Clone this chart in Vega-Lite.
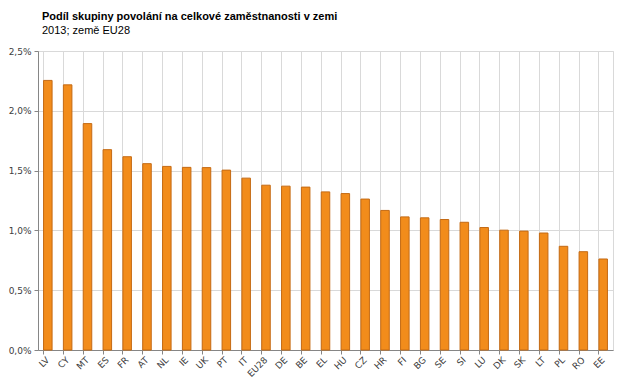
{
  "$schema": "https://vega.github.io/schema/vega-lite/v6.json",
  "width": 575,
  "height": 299,
  "autosize": {"type": "none"},
  "padding": {"left": 38, "top": 51, "right": 14, "bottom": 39},
  "background": "white",
  "title": {
    "text": "Podíl skupiny povolání na celkové zaměstnanosti v zemi",
    "subtitle": "2013; země EU28",
    "anchor": "start",
    "frame": "group",
    "dx": 4,
    "offset": 11,
    "font": "Liberation Sans",
    "fontSize": 11,
    "fontWeight": "bold",
    "color": "#000000",
    "subtitleFont": "Liberation Sans",
    "subtitleFontSize": 11,
    "subtitleColor": "#000000",
    "subtitlePadding": 3
  },
  "data": {
    "values": [
      {"country": "LV", "share": 2.254},
      {"country": "CY", "share": 2.217},
      {"country": "MT", "share": 1.893},
      {"country": "ES", "share": 1.675},
      {"country": "FR", "share": 1.616},
      {"country": "AT", "share": 1.558},
      {"country": "NL", "share": 1.535},
      {"country": "IE", "share": 1.527},
      {"country": "UK", "share": 1.525},
      {"country": "PT", "share": 1.504},
      {"country": "IT", "share": 1.437},
      {"country": "EU28", "share": 1.378},
      {"country": "DE", "share": 1.370},
      {"country": "BE", "share": 1.362},
      {"country": "EL", "share": 1.322},
      {"country": "HU", "share": 1.308},
      {"country": "CZ", "share": 1.262},
      {"country": "HR", "share": 1.167},
      {"country": "FI", "share": 1.113},
      {"country": "BG", "share": 1.105},
      {"country": "SE", "share": 1.091},
      {"country": "SI", "share": 1.068},
      {"country": "LU", "share": 1.024},
      {"country": "DK", "share": 1.002},
      {"country": "SK", "share": 0.994},
      {"country": "LT", "share": 0.978},
      {"country": "PL", "share": 0.867},
      {"country": "RO", "share": 0.822},
      {"country": "EE", "share": 0.761}
    ]
  },
  "mark": {
    "type": "bar",
    "color": "#F28C1B",
    "stroke": "#C46A14",
    "strokeWidth": 1
  },
  "encoding": {
    "x": {
      "field": "country",
      "type": "nominal",
      "sort": null,
      "scale": {"paddingInner": 0.57, "paddingOuter": 0.28},
      "axis": {
        "title": null,
        "labelAngle": -45,
        "labelAlign": "right",
        "labelBaseline": "middle",
        "labelFont": "DejaVu Sans",
        "labelFontSize": 9,
        "labelColor": "#404040",
        "labelPadding": 4,
        "bandPosition": 0,
        "grid": true,
        "gridColor": "#d9d9d9",
        "gridWidth": 1,
        "ticks": true,
        "tickSize": 4,
        "tickColor": "#868686",
        "domainColor": "#868686"
      }
    },
    "y": {
      "field": "share",
      "type": "quantitative",
      "scale": {"domain": [0, 2.5], "nice": false},
      "axis": {
        "title": null,
        "values": [0, 0.5, 1, 1.5, 2, 2.5],
        "labelExpr": "replace(format(datum.value, '.1f'), '.', ',') + '%'",
        "labelFont": "DejaVu Sans",
        "labelFontSize": 9,
        "labelColor": "#404040",
        "labelPadding": 3,
        "grid": true,
        "gridColor": "#d9d9d9",
        "gridWidth": 1,
        "ticks": true,
        "tickSize": 4,
        "tickColor": "#868686",
        "domainColor": "#868686"
      }
    }
  },
  "config": {
    "view": {"stroke": "#d9d9d9", "strokeWidth": 1}
  }
}
